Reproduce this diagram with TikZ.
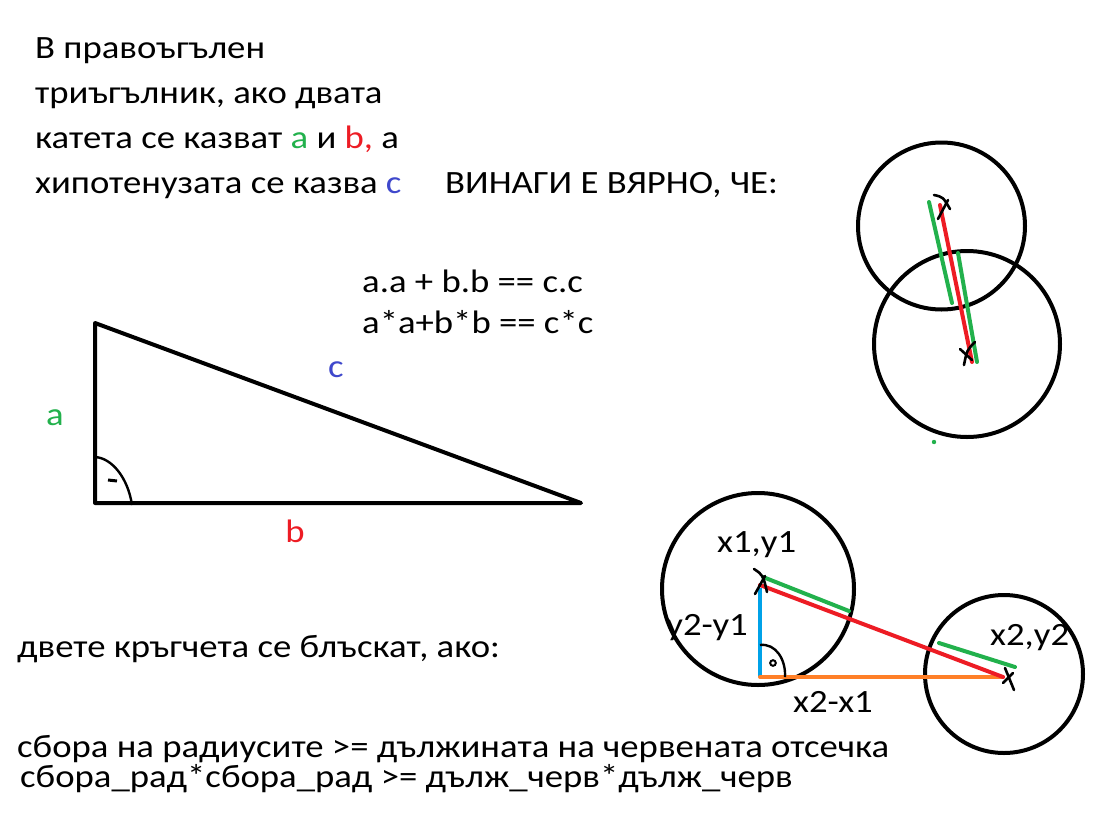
\documentclass[tikz,border=0pt]{standalone}
\usepackage{fontspec}
\setmainfont{Carlito}[FakeStretch=1.13]
\definecolor{pgreen}{RGB}{34,177,76}
\definecolor{pred}{RGB}{237,28,36}
\definecolor{pblue}{RGB}{63,72,204}
\definecolor{porange}{RGB}{255,127,39}
\definecolor{plblue}{RGB}{0,162,232}
\begin{document}
\begin{tikzpicture}[x=1pt,y=-1pt,
  txt/.style={anchor=base west,inner sep=0pt,font=\fontsize{32.5}{38}\selectfont},
  lbl/.style={anchor=base,inner sep=0pt,font=\fontsize{32.5}{38}\selectfont},
  thick4/.style={line width=4pt,line cap=round,line join=round},
  circ/.style={draw=black,line width=4pt},
  xmark/.style={line width=2.6pt,line cap=round}]
\path[use as bounding box, fill=white] (0,0) rectangle (1104,836);

% text block
\node[txt] (t1) at (35,58) {В правоъгълен};
\node[txt] (t2) at (35,103) {триъгълник, ако двата};
\node[txt] (t3) at (35,148) {катета се казват \textcolor{pgreen}{a} и \textcolor{pred}{b,} а};
\node[txt] (t4) at (35,193) {хипотенузата се казва \textcolor{pblue}{c}};
\node[txt] (t5) at (445,193) {ВИНАГИ Е ВЯРНО, ЧЕ:};
\node[txt] (e1) at (362,292) {a.a + b.b == c.c};
\node[txt] (e2) at (362,333) {a*a+b*b == c*c};
\node[txt] (t6) at (17,657) {двете кръгчета се блъскат, ако:};
\node[txt] (t7) at (17,757) {сбора на радиусите >= дължината на червената отсечка};
\node[txt] (t8) at (20,787) {сбора\_рад*сбора\_рад >= дълж\_черв*дълж\_черв};

% triangle
\coordinate (A) at (95,323);
\coordinate (C) at (95,503);
\coordinate (B) at (581,503);
\draw[thick4] (A) -- (C) -- (B) -- cycle;
\coordinate (ra1) at (95,457);
\coordinate (ra2) at (132,505);
\draw[line width=2.4pt] (ra1) .. controls (112,458) and (128,478) .. (ra2);
\coordinate (rd1) at (108,480);
\coordinate (rd2) at (117,481);
\draw[line width=3pt] (rd1) -- (rd2);
\node[lbl,text=pgreen] (la) at (55,425) {a};
\node[lbl,text=pred] (lb) at (295,542) {b};
\node[lbl,text=pblue] (lc) at (336,377) {c};

% top-right circles
\coordinate (O1) at (941.5,226);
\coordinate (O2) at (967,344);
\draw[circ] (O1) circle[radius=83.5pt];
\draw[circ] (O2) circle[radius=93pt];
\coordinate (p1) at (940,205);
\coordinate (p2) at (972,362);
\draw[thick4,pred] (p1) -- (p2);
\coordinate (g1a) at (929,202);
\coordinate (g1b) at (952,303);
\coordinate (g2a) at (958,253);
\coordinate (g2b) at (977,362);
\draw[thick4,pgreen] (g1a) -- (g1b);
\draw[thick4,pgreen] (g2a) -- (g2b);
\coordinate (x1a) at (934,195);
\coordinate (x1b) at (950,209);
\coordinate (x1c) at (948,200);
\coordinate (x1d) at (938,219);
\draw[xmark] (x1a) .. controls (943,197) .. (x1b);
\draw[xmark] (x1c) -- (x1d);
\coordinate (x2a) at (960,349);
\coordinate (x2b) at (972,360);
\coordinate (x2c) at (975,342);
\coordinate (x2d) at (964,365);
\draw[xmark] (x2a) -- (x2b);
\draw[xmark] (x2c) .. controls (967,350) .. (x2d);
\coordinate (gdot) at (934,442);
\fill[pgreen] (gdot) circle[radius=2.2pt];

% bottom-right circles
\coordinate (Q1) at (758,589);
\coordinate (Q2) at (1004,674);
\draw[circ] (Q1) circle[radius=96pt];
\draw[circ] (Q2) circle[radius=79pt];
\coordinate (P1) at (760,585);
\coordinate (P2) at (1003,677);
\coordinate (PC) at (760,677);
\coordinate (PB) at (760,588);
\draw[thick4,plblue,line cap=butt] (PB) -- (PC);
\draw[thick4,porange] (PC) -- (P2);
\draw[thick4,pred] (P1) -- (P2);
\coordinate (h1a) at (763,577);
\coordinate (h1b) at (849,611);
\coordinate (h2a) at (939,643);
\coordinate (h2b) at (1015,667);
\draw[thick4,pgreen] (h1a) -- (h1b);
\draw[thick4,pgreen] (h2a) -- (h2b);
\coordinate (m1a) at (754,569);
\coordinate (m1b) at (767,592);
\coordinate (m1c) at (765,576);
\coordinate (m1d) at (755,594);
\draw[xmark] (m1a) .. controls (763,575) .. (m1b);
\draw[xmark] (m1c) -- (m1d);
\coordinate (m2a) at (1005,668);
\coordinate (m2b) at (1014,690);
\coordinate (m2c) at (1013,673);
\coordinate (m2d) at (1003,683);
\draw[xmark] (m2a) -- (m2b);
\draw[xmark] (m2c) -- (m2d);
\coordinate (ar1) at (760,645);
\coordinate (ar2) at (785,677);
\draw[line width=2.4pt] (ar1) .. controls (776,643) and (786,660) .. (ar2);
\coordinate (ao) at (773,663);
\draw[line width=2pt] (ao) circle[radius=2.8pt];
\node[txt] (lx1) at (717,552) {x1,y1};
\node[anchor=base east,inner sep=0pt,font=\fontsize{32.5}{38}\selectfont] (ly) at (748,635) {y2-y1};
\node[txt] (lx2) at (990,645) {x2,y2};
\node[txt] (lxx) at (793,712) {x2-x1};
\end{tikzpicture}
\end{document}
